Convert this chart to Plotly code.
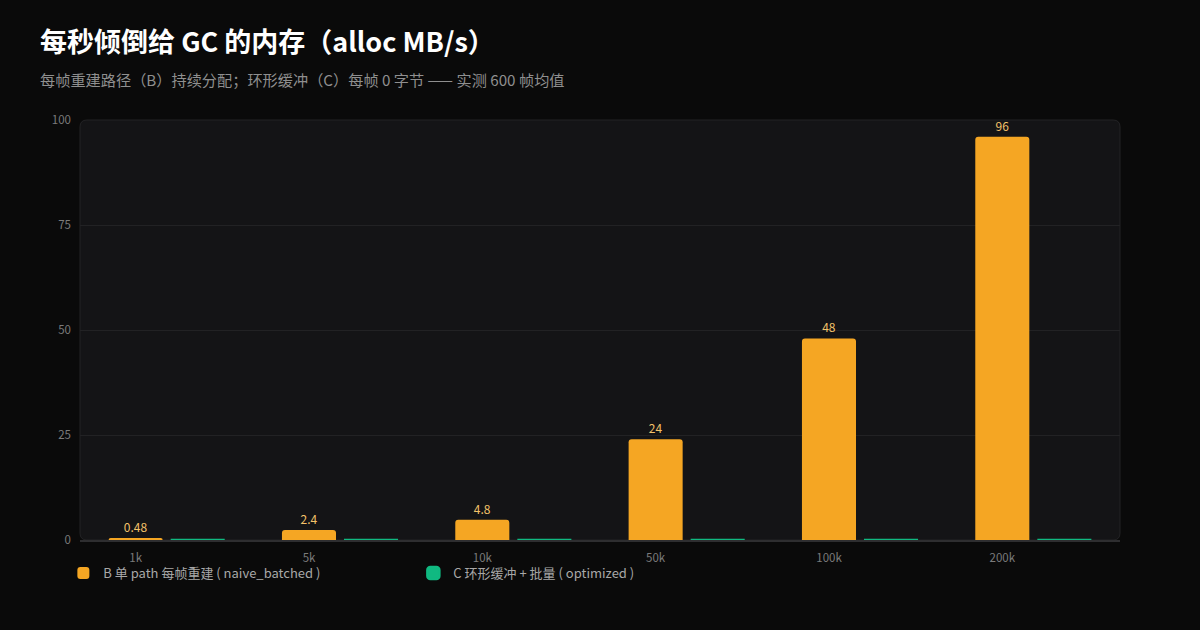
import plotly.graph_objects as go

categories = ["1k", "5k", "10k", "50k", "100k", "200k"]
naive_batched = [0.48, 2.4, 4.8, 24, 48, 96]
optimized = [0, 0, 0, 0, 0, 0]
naive_labels = ["0.48", "2.4", "4.8", "24", "48", "96"]
y_ticks = [0, 25, 50, 75, 100]

FONT = "Noto Sans CJK SC, Noto Sans, sans-serif"
ORANGE = "#f5a623"
GREEN = "#10b981"

fig = go.Figure()
fig.add_trace(go.Bar(
    x=categories, y=naive_batched, name="B 单 path 每帧重建 ( naive_batched )",
    marker=dict(color=ORANGE, line=dict(width=0)),
    text=naive_labels, textposition="outside", cliponaxis=False,
    textfont=dict(color="#f3c26a", size=12, family=FONT),
))
fig.add_trace(go.Bar(
    x=categories, y=optimized, name="C 环形缓冲 + 批量 ( optimized )",
    marker=dict(color=GREEN, line=dict(width=2.5, color=GREEN)),
    cliponaxis=False,
))

W, H = 1040.0, 420.0
r = 7
rx, ry = r / W, r / H
path = (f"M {rx},0 L {1-rx},0 Q 1,0 1,{ry} L 1,{1-ry} Q 1,1 {1-rx},1 "
        f"L {rx},1 Q 0,1 0,{1-ry} L 0,{ry} Q 0,0 {rx},0 Z")
fig.add_shape(type="path", path=path, xref="paper", yref="paper",
              fillcolor="#141416", line=dict(color="#232325", width=1), layer="below")
fig.add_shape(type="line", xref="paper", yref="paper", x0=0, x1=1, y0=-1/H, y1=-1/H,
              line=dict(color="#2e2e30", width=2), layer="below")

fig.update_layout(
    width=1200, height=630,
    paper_bgcolor="#0a0a0a", plot_bgcolor="rgba(0,0,0,0)",
    margin=dict(l=80, r=80, t=120, b=90),
    barmode="group", bargap=0.284, bargroupgap=0.129, barcornerradius=3,
    font=dict(family=FONT, color="#8a8a8a"),
    title=dict(text="<b>每秒倾倒给 GC 的内存（alloc MB/s）</b>", x=40/1200, xanchor="left",
               y=1-43/630, yanchor="middle", font=dict(size=27, color="#ffffff", family=FONT)),
    showlegend=True,
    legend=dict(orientation="h", x=-0.016, xanchor="left", y=-0.043, yanchor="top",
                font=dict(size=13, color="#a8a8a8", family=FONT), entrywidth=305,
                itemwidth=30, bgcolor="rgba(0,0,0,0)", traceorder="normal"),
    annotations=[dict(text="每帧重建路径（B）持续分配；环形缓冲（C）每帧 0 字节 —— 实测 600 帧均值",
                      xref="paper", yref="paper", x=-42/1040, y=1+(120-79)/420,
                      xanchor="left", yanchor="middle", showarrow=False,
                      font=dict(size=15.2, color="#8f8f8f", family=FONT))],
)
fig.update_xaxes(showgrid=False, showline=False,
                 ticks="", tickfont=dict(size=11.5, color="#7a7a7a"), ticklabelshift=-31,
                 ticklabelstandoff=9)
fig.update_yaxes(range=[0, 100], tickvals=y_ticks, gridcolor="#222224", gridwidth=1,
                 zeroline=False, showline=False, ticks="", ticklabelstandoff=8,
                 tickfont=dict(size=11.5, color="#7a7a7a"))

fig.write_html("out.html", config={"displayModeBar": False},
               post_script="document.body.style.margin='0';document.body.style.background='#0a0a0a';")
